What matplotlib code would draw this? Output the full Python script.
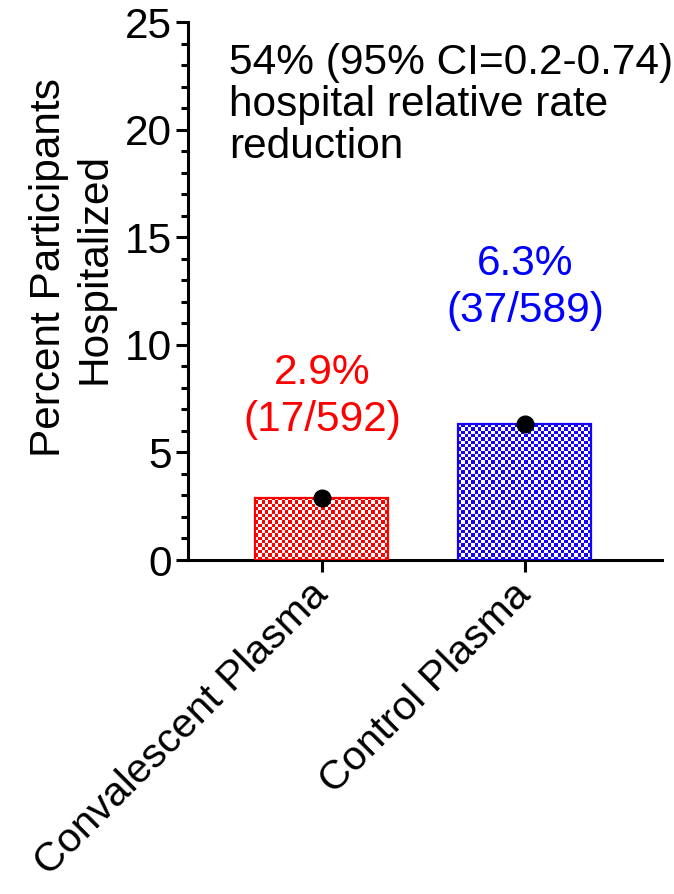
import numpy as np
import matplotlib
matplotlib.use("Agg")
import matplotlib.pyplot as plt
from matplotlib.colors import ListedColormap
from matplotlib.ticker import MultipleLocator

categories = ["Convalescent Plasma", "Control Plasma"]
values = [2.9, 6.3]
labels = ["2.9%\n(17/592)", "6.3%\n(37/589)"]
colors = ["#ff0000", "#1500ff"]
text_colors = ["#ff0000", "#0000ff"]
annotation = "54% (95% CI=0.2-0.74)\nhospital relative rate\nreduction"
ylabel = "Percent Participants\nHospitalized"

# layout: gap (in axis units) between bar top and bottom of its label
label_gaps = [2.68, 4.34]

plt.rcParams['font.family'] = ['Liberation Sans', 'DejaVu Sans']
FS = 30.5

W, H = 674, 894
fig = plt.figure(figsize=(W/100, H/100), dpi=100)
ax = fig.add_axes([188/W, 1-560/H, (662-188)/W, (560-22)/H])

x = np.arange(len(categories))
ax.set_xlim(-0.66, 1.675)
ax.set_ylim(0, 25)

bars = ax.bar(x, values, width=0.655, facecolor='none', edgecolor=colors,
              linewidth=1.6, zorder=3)

# checkerboard fill for each bar
fig.canvas.draw()
cell_px = 3.3
for b, c in zip(bars, colors):
    x0, y0 = b.get_x(), b.get_y()
    w, h = b.get_width(), b.get_height()
    p0 = ax.transData.transform((x0, y0))
    p1 = ax.transData.transform((x0 + w, y0 + h))
    nx = max(1, int(round(abs(p1[0]-p0[0]) / cell_px)))
    ny = max(1, int(round(abs(p1[1]-p0[1]) / cell_px)))
    ii, jj = np.indices((ny, nx))
    arr = ((ii + jj) % 2).astype(float)
    cmap = ListedColormap(['white', c])
    im = ax.imshow(arr, cmap=cmap, vmin=0, vmax=1, extent=(x0, x0+w, y0, y0+h),
                   origin='lower', aspect='auto', interpolation='nearest', zorder=2)
    im.set_clip_path(b)

ax.plot(x, values, 'o', color='black', markersize=12, zorder=4, clip_on=False)

for xi, v, lab, tc, g in zip(x, values, labels, text_colors, label_gaps):
    ax.text(xi, v + g, lab, ha='center', va='bottom', color=tc, fontsize=FS,
            linespacing=1.22)

fig.text(229/W, 1-43/H, annotation, ha='left', va='top', fontsize=FS,
         linespacing=1.07)

fig.text(72/W, 1-268/H, ylabel, rotation=90, ha='center', va='center',
         fontsize=FS, multialignment='center', linespacing=1.17)

ax.spines['top'].set_visible(False)
ax.spines['right'].set_visible(False)
for s in ['left', 'bottom']:
    ax.spines[s].set_linewidth(2.2)

ax.yaxis.set_major_locator(MultipleLocator(5))
ax.yaxis.set_minor_locator(MultipleLocator(1))
ax.tick_params(axis='y', which='major', length=8.6, width=2.2, labelsize=FS, pad=3)
ax.tick_params(axis='y', which='minor', length=5, width=2.2)
ax.set_xticks(x)
ax.set_xticklabels(categories, rotation=45, ha='right', va='center',
                   rotation_mode='anchor')
ax.tick_params(axis='x', which='major', length=8.6, width=2.2, labelsize=29.5, pad=12)
ax.tick_params(axis='x', which='minor', bottom=False)

fig.savefig("out.png", dpi=100)
